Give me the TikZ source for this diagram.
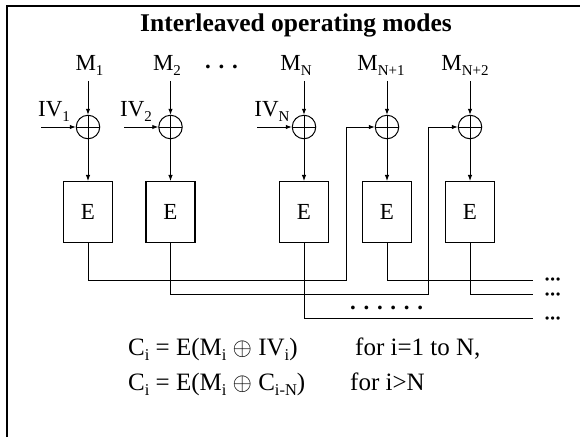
\documentclass[tikz,border=0pt]{standalone}
\usepackage{fontspec}
\setmainfont{Liberation Serif}
\usetikzlibrary{arrows.meta}
\newcommand{\sbs}[1]{\raisebox{-5pt}{\fontsize{15}{18}\selectfont #1}}
\newcommand{\sbf}[1]{\raisebox{-5.5pt}{\fontsize{16.5}{19}\selectfont #1}}
\newcommand{\bul}{•\kern1.3pt•\kern1.3pt•}
\begin{document}
\begin{tikzpicture}[x=1pt,y=-1pt,
  lab/.style={font=\fontsize{23}{27}\selectfont, inner sep=0pt, anchor=base},
  fml/.style={font=\fontsize{25}{30}\selectfont, inner sep=0pt, anchor=base west},
  dts/.style={font=\fontsize{23}{27}\selectfont\bfseries, inner sep=0pt},
  enddots/.style={font=\fontsize{12}{14}\selectfont\bfseries, inner sep=0pt, anchor=base west},
  xorn/.style={circle, draw, line width=1pt, minimum size=23.5pt, inner sep=0pt,
    path picture={\draw[line width=0.9pt] (path picture bounding box.north) -- (path picture bounding box.south)
      (path picture bounding box.west) -- (path picture bounding box.east);}},
  ebox/.style={draw, line width=1.1pt, minimum width=49pt, minimum height=61pt, inner sep=0pt,
    font=\fontsize{23}{27}\selectfont},
  arr/.style={line width=0.9pt, -{Latex[length=6pt,width=4.5pt]}},
  ln/.style={line width=0.9pt},
  frm/.style={line width=2.2pt}
]
\useasboundingbox (0,0) rectangle (580,437);
% frame
\draw[frm] (7,437) -- (7,5.8) -- (580,5.8);
% title
\node[font={\fontsize{25.5}{30}\selectfont\bfseries}, inner sep=0pt, anchor=base] (title) at (296,31) {Interleaved operating modes};
% M labels
\node[lab] (m1) at (89.5,70) {M\sbs{1}};
\node[lab] (m2) at (167,70) {M\sbs{2}};
\node[dts, anchor=base] (mdots) at (221.5,68.5) {. . .};
\node[lab] (m3) at (296,70) {M\sbs{N}};
\node[lab] (m4) at (381,70) {M\sbs{N+1}};
\node[lab] (m5) at (465,70) {M\sbs{N+2}};
% IV labels
\node[lab] (iv1) at (54,116) {IV\sbs{1}};
\node[lab] (iv2) at (136,116) {IV\sbs{2}};
\node[lab] (iv3) at (272,116) {IV\sbs{N}};
% xor
\node[xorn] (x1) at (88,127) {};
\node[xorn] (x2) at (170.5,127) {};
\node[xorn] (x3) at (304,127) {};
\node[xorn] (x4) at (387,127) {};
\node[xorn] (x5) at (470,127) {};
% boxes
\node[ebox] (e1) at (88,212) {E};
\node[ebox] (e2) at (170.5,212) {E};
\node[ebox] (e3) at (304,212) {E};
\node[ebox] (e4) at (387,212) {E};
\node[ebox] (e5) at (470,212) {E};
% coordinates
\coordinate (i1) at (41,127);
\coordinate (i2) at (124,127);
\coordinate (i3) at (257,127);
\coordinate (j1) at (346.6,280);
\coordinate (j2) at (428.4,294);
\coordinate (o1) at (533,280);
\coordinate (o2) at (533,294);
\coordinate (o3) at (533,318.3);
% M arrows
\foreach \k in {1,...,5}{
  \draw[arr] (x\k.north) ++(0,-34) -- (x\k.north);
  \draw[arr] (x\k.south) -- (e\k.north);
}
% IV arrows
\draw[arr] (i1) -- (x1.west);
\draw[arr] (i2) -- (x2.west);
\draw[arr] (i3) -- (x3.west);
% feedback
\draw[arr] (e1.south) |- (j1) |- (x4.west);
\draw[arr] (e2.south) |- (j2) |- (x5.west);
% outputs
\draw[ln] (e4.south) |- (o1);
\draw[ln] (e5.south) |- (o2);
\draw[ln] (e3.south) |- (o3);
\node[enddots] (d1) at (545,283) {\bul};
\node[enddots] (d2) at (545,298) {\bul};
\node[enddots] (d3) at (545,322) {\bul};
\node[dts, anchor=base west] (dmid) at (350,309.5) {. . . . . .};
% formulas
\node[fml] (f1) at (128,355) {C\sbf{i} = E(M\sbf{i} $\oplus$ IV\sbf{i})};
\node[fml] (g1) at (355,355) {for i=1 to N,};
\node[fml] (f2) at (128,390) {C\sbf{i} = E(M\sbf{i} $\oplus$ C\sbf{i-N})};
\node[fml] (g2) at (350,390) {for i>N};
\end{tikzpicture}
\end{document}
